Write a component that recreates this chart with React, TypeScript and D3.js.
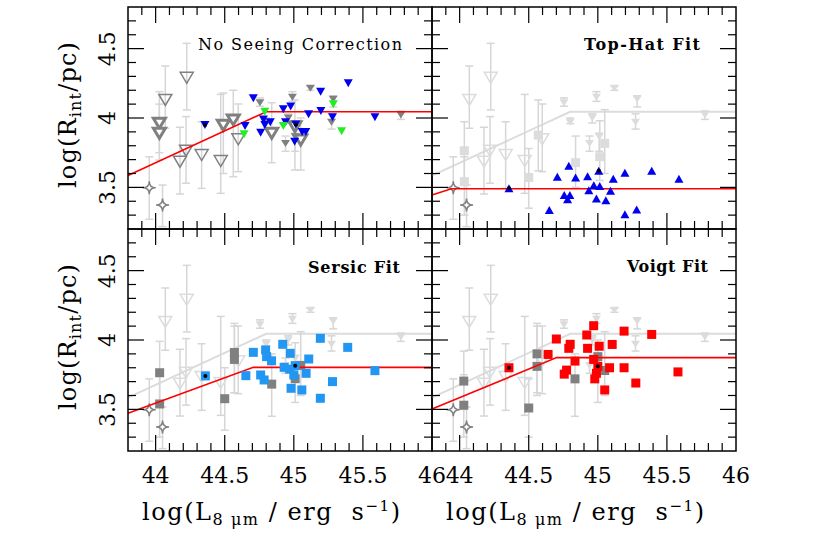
import * as d3 from "d3";

const X_DOMAIN = [43.8, 46];
const Y_DOMAIN = [3.2, 4.8];
const xTickLabels = ["44", "44.5", "45", "45.5", "46"];
const yTickLabels = ["3.5", "4", "4.5"];

// [log L8um, log Rint, err low, err high]
const ghostOpenTri = [
  [44.07, 4.13, 3.926, 4.375],
  [44.225, 4.29, 4.058, 4.538],
  [44.22, 3.764, 3.53, 4.01],
  [44.176, 3.685, 3.452, 3.933],
  [44.333, 3.733, 3.493, 3.973],
  [44.471, 3.69, 3.457, 4.17],
  [44.598, 3.846, 3.613, 4.101],
];
const ghostSmallTri = [
  [44.755, 4.11, 4.085, 4.145],
  [44.8, 3.97, 3.96, 4.0],
  [44.99, 4.15, 4.12, 4.19],
  [44.96, 4.0, 3.964, 4.03],
  [44.94, 3.817, 3.76, 3.87],
  [45.12, 4.215, 4.2, 4.23],
  [45.285, 4.135, 4.08, 4.16],
  [45.273, 3.97, 3.92, 4.03],
  [45.775, 4.022, 3.99, 4.05],
  [45.01, 3.865, 3.76, 3.89],
];
const stars = [
  [43.954, 3.498, 3.27, 3.72],
  [44.05, 3.373, 3.217, 3.517],
];

// No seeing correction
const nscGray = [
  [44.027, 3.962, 3.75, 4.19],
  [44.027, 3.89, 3.697, 4.1],
  [44.49, 3.947, 3.6, 4.18],
  [44.562, 3.986, 3.577, 4.2],
  [44.84, 3.89, 3.678, 4.11],
  [45.008, 3.937, 3.625, 4.13],
  [45.05, 3.841, 3.625, 4.0],
];
const nscBlue = [
  [44.357, 3.95], [44.647, 3.942], [44.707, 4.142], [44.78, 3.99], [44.79, 3.95],
  [44.83, 3.97], [44.76, 3.894], [44.924, 4.063], [44.977, 4.082], [44.94, 3.97],
  [45.014, 3.954], [45.006, 3.829], [45.06, 3.9], [45.087, 3.9], [45.107, 4.027],
  [45.194, 4.19], [45.196, 4.05], [45.28, 4.006], [45.394, 4.25], [45.587, 4.006],
];
const nscGreen = [
  [44.64, 3.882], [44.79, 4.045], [44.924, 3.942], [45.286, 4.099], [45.346, 3.904],
];
const nscDots = [[44.357, 3.95], [45.014, 3.954]];
const nscLine = [[43.8, 3.585], [44.8, 4.045], [46, 4.045]];

// Top-hat fit
const topHatBlue = [
  [44.357, 3.493], [44.649, 3.337], [44.707, 3.577], [44.757, 3.445], [44.781, 3.414],
  [44.798, 3.445], [44.79, 3.656], [44.839, 3.572], [44.926, 3.58], [44.935, 3.48],
  [44.971, 3.516], [44.99, 3.42], [45.007, 3.62], [45.014, 3.51], [45.058, 3.408],
  [45.092, 3.475], [45.112, 3.563], [45.196, 3.606], [45.196, 3.306], [45.281, 3.341],
  [45.39, 3.62], [45.587, 3.563],
];
const topHatGray = [
  [44.034, 3.764, 3.517, 3.973],
  [44.034, 3.541, 3.3, 3.72],
  [44.569, 3.877, 3.62, 4.13],
  [44.5, 3.571, 3.35, 3.78],
  [44.839, 3.678, 3.5, 3.87],
  [45.014, 3.721, 3.55, 3.98],
  [45.05, 3.817, 3.6, 4.06],
];
const topHatDots = [[44.357, 3.493], [45.007, 3.62]];
const topHatLine = [[43.8, 3.445], [43.94, 3.49], [46, 3.49]];

// Sersic fit
const sersicBlue = [
  [44.36, 3.741], [44.653, 3.743], [44.707, 3.911], [44.796, 3.928], [44.803, 3.88],
  [44.839, 3.85], [44.76, 3.748], [44.785, 3.712], [44.92, 3.969], [44.974, 3.904],
  [44.93, 3.803], [44.97, 3.79], [45.01, 3.815], [45.0, 3.748], [44.98, 3.652],
  [45.058, 3.64], [45.089, 3.76], [45.108, 3.863], [45.192, 4.012], [45.192, 3.58],
  [45.28, 3.7], [45.39, 3.947], [45.587, 3.779],
];
const sersicGray = [
  [44.029, 3.764, 3.54, 3.99],
  [44.029, 3.539, 3.3, 3.75],
  [44.57, 3.91, 3.62, 4.12],
  [44.57, 3.86, 3.62, 4.1],
  [44.5, 3.577, 3.35, 3.8],
  [44.84, 3.682, 3.45, 3.9],
  [45.01, 3.721, 3.55, 3.98],
  [45.05, 3.817, 3.6, 4.06],
];
const sersicDots = [[44.36, 3.741], [45.01, 3.815]];
const sersicLine = [[43.8, 3.472], [44.707, 3.803], [46, 3.803]];

// Voigt fit
const voigtRed = [
  [44.357, 3.8], [44.64, 3.896], [44.7, 4.007], [44.8, 3.968], [44.79, 3.94],
  [44.835, 3.848], [44.774, 3.783], [44.757, 3.754], [44.92, 4.036], [44.97, 4.103],
  [44.926, 3.94], [45.01, 3.955], [44.97, 3.86], [45.0, 3.81], [44.99, 3.76],
  [44.978, 3.72], [45.05, 3.64], [45.085, 3.8], [45.104, 3.968], [45.19, 4.064],
  [45.19, 3.8], [45.275, 3.69], [45.39, 4.04], [45.58, 3.77],
];
const voigtGray = [
  [44.03, 3.704, 3.5, 3.92],
  [44.03, 3.53, 3.3, 3.75],
  [44.56, 3.9, 3.62, 4.12],
  [44.56, 3.81, 3.6, 4.1],
  [44.5, 3.51, 3.3, 3.72],
  [44.835, 3.72, 3.45, 3.9],
  [45.0, 3.88, 3.55, 4.0],
  [45.05, 3.78, 3.6, 4.06],
];
const voigtDots = [[44.357, 3.8], [45.0, 3.81]];
const voigtLine = [[43.8, 3.503], [44.702, 3.873], [46, 3.873]];

const PW = 304;
const PH = 222;
const FONT = "DejaVu Serif";
const LIGHT = "#dcdcdc";
const ERR = "#d6d6d6";
const GRAY = "#808080";

function tri(cx, cy, w, h, down) {
  if (down) return `M${cx - w / 2},${cy - h / 2}L${cx + w / 2},${cy - h / 2}L${cx},${cy + h / 2}Z`;
  return `M${cx - w / 2},${cy + h / 2}L${cx + w / 2},${cy + h / 2}L${cx},${cy - h / 2}Z`;
}

function star(cx, cy, r) {
  return `M${cx},${cy - r}Q${cx},${cy} ${cx + r},${cy}Q${cx},${cy} ${cx},${cy + r}Q${cx},${cy} ${cx - r},${cy}Q${cx},${cy} ${cx},${cy - r}Z`;
}

function ErrBar({ x, y, d }) {
  const cx = x(d[0]);
  return (
    <g stroke={ERR} strokeWidth={1.5}>
      <line x1={cx} x2={cx} y1={y(d[2])} y2={y(d[3])} />
      <line x1={cx - 4} x2={cx + 4} y1={y(d[2])} y2={y(d[2])} />
      <line x1={cx - 4} x2={cx + 4} y1={y(d[3])} y2={y(d[3])} />
    </g>
  );
}

function Panel(p) {
  const x = d3.scaleLinear().domain(X_DOMAIN).range([p.left, p.left + PW]);
  const y = d3.scaleLinear().domain(Y_DOMAIN).range([p.top + PH, p.top]);
  const line = d3.line().x((d) => x(d[0])).y((d) => y(d[1]));
  const isMajor = (v) => Math.abs(v * 2 - Math.round(v * 2)) < 1e-6;
  const xt = x.ticks(22).filter((v) => v > X_DOMAIN[0] + 1e-6 && v < X_DOMAIN[1] - 1e-6);
  const yt = y.ticks(16).filter((v) => v > Y_DOMAIN[0] + 1e-6 && v < Y_DOMAIN[1] - 1e-6);
  const ghostCol = p.ghost ? LIGHT : GRAY;
  const [x0, x1] = x.range();
  const [y1, y0] = y.range();

  return (
    <g>
      {p.ghost && <path d={line(nscLine)} fill="none" stroke={LIGHT} strokeWidth={2} />}
      {ghostOpenTri.map((d, i) => <ErrBar key={"go" + i} x={x} y={y} d={d} />)}
      {ghostSmallTri.map((d, i) => <ErrBar key={"gs" + i} x={x} y={y} d={d} />)}
      {stars.map((d, i) => <ErrBar key={"st" + i} x={x} y={y} d={d} />)}
      {p.gray.map((d, i) => <ErrBar key={"gr" + i} x={x} y={y} d={d} />)}
      {ghostOpenTri.map((d, i) => (
        <path key={"goT" + i} d={tri(x(d[0]), y(d[1]), 13, 11, true)} fill="none" stroke={ghostCol} strokeWidth={1.5} />
      ))}
      {ghostSmallTri.map((d, i) => (
        <path key={"gsT" + i} d={tri(x(d[0]), y(d[1]), 9, 7, true)} fill={ghostCol} />
      ))}
      {p.gray.map((d, i) =>
        p.grayShape === "tri" ? (
          <path key={"grT" + i} d={tri(x(d[0]), y(d[1]), 12, 10, true)} fill="white" stroke={GRAY} strokeWidth={3} />
        ) : (
          <rect key={"grS" + i} x={x(d[0]) - 4.5} y={y(d[1]) - 4.5} width={9} height={9} fill={p.grayColor} />
        )
      )}
      {stars.map((d, i) => (
        <path key={"stS" + i} d={star(x(d[0]), y(d[1]), 6.5)} fill="white" stroke={GRAY} strokeWidth={1.5} />
      ))}
      <path d={line(p.fit)} fill="none" stroke="#ff0000" strokeWidth={1.6} />
      {p.series.map((s, j) =>
        s.data.map((d, i) =>
          s.shape === "square" ? (
            <rect key={`s${j}-${i}`} x={x(d[0]) - 4.5} y={y(d[1]) - 4.5} width={9} height={9} fill={s.color} />
          ) : (
            <path key={`s${j}-${i}`} d={tri(x(d[0]), y(d[1]), 9, 8, s.shape === "down")} fill={s.color} />
          )
        )
      )}
      {p.dots.map((d, i) => (
        <circle key={"dot" + i} cx={x(d[0])} cy={y(d[1])} r={2} fill="black" />
      ))}

      {/* frame and ticks */}
      <rect x={x0} y={y0} width={PW} height={PH} fill="none" stroke="black" strokeWidth={1.5} />
      <g stroke="black" strokeWidth={1.2}>
        {xt.map((v) => {
          const L = isMajor(v) ? 16 : 8;
          return (
            <g key={"xt" + v}>
              <line x1={x(v)} x2={x(v)} y1={y1} y2={y1 - L} />
              <line x1={x(v)} x2={x(v)} y1={y0} y2={y0 + L} />
            </g>
          );
        })}
        {yt.map((v) => {
          const L = isMajor(v) ? 16 : 8;
          return (
            <g key={"yt" + v}>
              <line x1={x0} x2={x0 + L} y1={y(v)} y2={y(v)} />
              <line x1={x1} x2={x1 - L} y1={y(v)} y2={y(v)} />
            </g>
          );
        })}
      </g>

      <text
        x={p.titleX}
        y={p.titleY}
        fontFamily={FONT}
        fontSize={16}
        fontWeight={p.bold ? "bold" : "normal"}
        textLength={p.titleLen}
        lengthAdjust="spacing"
      >
        {p.title}
      </text>

      {p.xLabels &&
        xTickLabels.map((t) => (
          <text key={"xl" + t} x={x(+t)} y={483} textAnchor="middle" fontFamily={FONT} fontSize={22}>
            {t}
          </text>
        ))}
      {p.xLabels && (
        <text
          x={p.left + 14}
          y={520}
          fontFamily={FONT}
          fontSize={24}
          textLength={258}
          lengthAdjust="spacing"
          style={{ whiteSpace: "pre" }}
        >
          log(L
          <tspan dy={5} fontSize={16}>8 μm</tspan>
          <tspan dy={-5}>{" / erg  s"}</tspan>
          <tspan dy={-9} fontSize={15}>−1</tspan>
          <tspan dy={9}>)</tspan>
        </text>
      )}
      {p.yLabels &&
        yTickLabels.map((t) => (
          <text
            key={"yl" + t}
            transform={`translate(115,${y(+t)}) rotate(-90)`}
            textAnchor="middle"
            fontFamily={FONT}
            fontSize={22}
          >
            {t}
          </text>
        ))}
      {p.yLabels && (
        <text
          transform={`translate(76,${p.top + PH / 2 - 3}) rotate(-90)`}
          textAnchor="middle"
          fontFamily={FONT}
          fontSize={24}
          textLength={146}
          lengthAdjust="spacing"
        >
          log(R
          <tspan dy={5} fontSize={16}>int</tspan>
          <tspan dy={-5}>/pc)</tspan>
        </text>
      )}
    </g>
  );
}

export default function App() {
  return (
    <svg width={830} height={537} style={{ position: "absolute", left: 0, top: 0, background: "white" }}>
      <Panel
        left={128}
        top={7}
        ghost={false}
        gray={nscGray}
        grayShape="tri"
        grayColor={GRAY}
        series={[
          { data: nscBlue, color: "#0000ee", shape: "down" },
          { data: nscGreen, color: "#22ee22", shape: "down" },
        ]}
        dots={nscDots}
        fit={nscLine}
        title="No Seeing Correction"
        titleX={198}
        titleY={50}
        titleLen={204}
        bold={false}
        yLabels
      />
      <Panel
        left={432}
        top={7}
        ghost
        gray={topHatGray}
        grayShape="square"
        grayColor={LIGHT}
        series={[{ data: topHatBlue, color: "#0000ee", shape: "up" }]}
        dots={topHatDots}
        fit={topHatLine}
        title="Top-Hat Fit"
        titleX={584}
        titleY={50}
        titleLen={116}
        bold
      />
      <Panel
        left={128}
        top={229}
        ghost
        gray={sersicGray}
        grayShape="square"
        grayColor={GRAY}
        series={[{ data: sersicBlue, color: "#2196f3", shape: "square" }]}
        dots={sersicDots}
        fit={sersicLine}
        title="Sersic Fit"
        titleX={308}
        titleY={273}
        titleLen={92}
        bold
        xLabels
        yLabels
      />
      <Panel
        left={432}
        top={229}
        ghost
        gray={voigtGray}
        grayShape="square"
        grayColor={GRAY}
        series={[{ data: voigtRed, color: "#ff0000", shape: "square" }]}
        dots={voigtDots}
        fit={voigtLine}
        title="Voigt Fit"
        titleX={627}
        titleY={272}
        titleLen={81}
        bold
        xLabels
      />
    </svg>
  );
}
